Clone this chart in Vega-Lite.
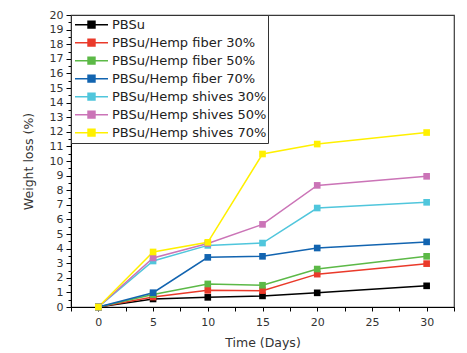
{
  "$schema": "https://vega.github.io/schema/vega-lite/v6.json",
  "width": 383,
  "height": 292,
  "autosize": {"type": "none"},
  "padding": {"left": 71, "top": 15, "right": 13, "bottom": 46},
  "background": "white",
  "config": {
    "view": {"stroke": "#3a3a3a", "strokeWidth": 1.2},
    "axis": {
      "grid": false,
      "domainColor": "#000000",
      "domainWidth": 1,
      "tickColor": "#000000",
      "tickWidth": 1,
      "labelFont": "DejaVu Sans",
      "labelFontSize": 11,
      "labelColor": "#333333",
      "titleFont": "DejaVu Sans",
      "titleFontSize": 12.5,
      "titleFontWeight": "normal",
      "titleColor": "#333333",
      "labelOverlap": false,
      "labelFlush": false
    },
    "legend": {
      "orient": "top-left",
      "offset": 0,
      "padding": 1,
      "strokeColor": "#333333",
      "fillColor": "white",
      "labelFont": "DejaVu Sans",
      "labelFontSize": 13,
      "labelColor": "#222222",
      "symbolSize": 1089,
      "symbolStrokeWidth": 1.5,
      "symbolOpacity": 1,
      "clipHeight": 17.3,
      "rowPadding": 0,
      "labelOffset": 3,
      "symbolOffset": 2,
      "cornerRadius": 0
    }
  },
  "data": {
    "values": [
      {"series": "PBSu", "day": 0, "loss": 0},
      {"series": "PBSu", "day": 5, "loss": 0.55},
      {"series": "PBSu", "day": 10, "loss": 0.66},
      {"series": "PBSu", "day": 15, "loss": 0.76},
      {"series": "PBSu", "day": 20, "loss": 0.97},
      {"series": "PBSu", "day": 30, "loss": 1.45},
      {"series": "PBSu/Hemp fiber 30%", "day": 0, "loss": 0},
      {"series": "PBSu/Hemp fiber 30%", "day": 5, "loss": 0.68},
      {"series": "PBSu/Hemp fiber 30%", "day": 10, "loss": 1.14},
      {"series": "PBSu/Hemp fiber 30%", "day": 15, "loss": 1.12},
      {"series": "PBSu/Hemp fiber 30%", "day": 20, "loss": 2.25},
      {"series": "PBSu/Hemp fiber 30%", "day": 30, "loss": 2.97},
      {"series": "PBSu/Hemp fiber 50%", "day": 0, "loss": 0},
      {"series": "PBSu/Hemp fiber 50%", "day": 5, "loss": 0.85},
      {"series": "PBSu/Hemp fiber 50%", "day": 10, "loss": 1.58},
      {"series": "PBSu/Hemp fiber 50%", "day": 15, "loss": 1.49},
      {"series": "PBSu/Hemp fiber 50%", "day": 20, "loss": 2.6},
      {"series": "PBSu/Hemp fiber 50%", "day": 30, "loss": 3.47},
      {"series": "PBSu/Hemp fiber 70%", "day": 0, "loss": 0},
      {"series": "PBSu/Hemp fiber 70%", "day": 5, "loss": 0.98},
      {"series": "PBSu/Hemp fiber 70%", "day": 10, "loss": 3.4},
      {"series": "PBSu/Hemp fiber 70%", "day": 15, "loss": 3.47},
      {"series": "PBSu/Hemp fiber 70%", "day": 20, "loss": 4.04},
      {"series": "PBSu/Hemp fiber 70%", "day": 30, "loss": 4.46},
      {"series": "PBSu/Hemp shives 30%", "day": 0, "loss": 0},
      {"series": "PBSu/Hemp shives 30%", "day": 5, "loss": 3.15},
      {"series": "PBSu/Hemp shives 30%", "day": 10, "loss": 4.22},
      {"series": "PBSu/Hemp shives 30%", "day": 15, "loss": 4.38},
      {"series": "PBSu/Hemp shives 30%", "day": 20, "loss": 6.78},
      {"series": "PBSu/Hemp shives 30%", "day": 30, "loss": 7.17},
      {"series": "PBSu/Hemp shives 50%", "day": 0, "loss": 0},
      {"series": "PBSu/Hemp shives 50%", "day": 5, "loss": 3.36},
      {"series": "PBSu/Hemp shives 50%", "day": 10, "loss": 4.35},
      {"series": "PBSu/Hemp shives 50%", "day": 15, "loss": 5.66},
      {"series": "PBSu/Hemp shives 50%", "day": 20, "loss": 8.33},
      {"series": "PBSu/Hemp shives 50%", "day": 30, "loss": 8.95},
      {"series": "PBSu/Hemp shives 70%", "day": 0, "loss": 0},
      {"series": "PBSu/Hemp shives 70%", "day": 5, "loss": 3.77},
      {"series": "PBSu/Hemp shives 70%", "day": 10, "loss": 4.43},
      {"series": "PBSu/Hemp shives 70%", "day": 15, "loss": 10.48},
      {"series": "PBSu/Hemp shives 70%", "day": 20, "loss": 11.16},
      {"series": "PBSu/Hemp shives 70%", "day": 30, "loss": 11.95}
    ]
  },
  "encoding": {
    "x": {
      "field": "day",
      "type": "quantitative",
      "scale": {"domain": [-2.5, 32.5], "nice": false, "zero": false},
      "axis": {
        "title": "Time (Days)",
        "values": [-2.5, 0, 2.5, 5, 7.5, 10, 12.5, 15, 17.5, 20, 22.5, 25, 27.5, 30, 32.5],
        "labelExpr": "datum.value % 5 == 0 ? format(datum.value, 'd') : ''",
        "tickSize": 4,
        "labelPadding": 5,
        "titlePadding": 9
      }
    },
    "y": {
      "field": "loss",
      "type": "quantitative",
      "scale": {"domain": [0, 20], "nice": false},
      "axis": {
        "title": "Weight loss (%)",
        "values": [0, 0.5, 1, 1.5, 2, 2.5, 3, 3.5, 4, 4.5, 5, 5.5, 6, 6.5, 7, 7.5, 8, 8.5, 9, 9.5, 10, 10.5, 11, 11.5, 12, 12.5, 13, 13.5, 14, 14.5, 15, 15.5, 16, 16.5, 17, 17.5, 18, 18.5, 19, 19.5, 20],
        "labelExpr": "datum.value % 1 == 0 ? format(datum.value, 'd') : ''",
        "tickSize": {"condition": {"test": "datum.value % 1 == 0", "value": 5}, "value": 3},
        "labelPadding": 3,
        "titlePadding": 14
      }
    },
    "color": {
      "field": "series",
      "type": "nominal",
      "scale": {
        "domain": ["PBSu", "PBSu/Hemp fiber 30%", "PBSu/Hemp fiber 50%", "PBSu/Hemp fiber 70%", "PBSu/Hemp shives 30%", "PBSu/Hemp shives 50%", "PBSu/Hemp shives 70%"],
        "range": ["#000000", "#ea3a2a", "#5cb947", "#1264b0", "#50c6dc", "#cb74b7", "#fff000"]
      },
      "legend": {
        "title": null,
        "symbolType": "M-1,0H1M-0.21,-0.21H0.21V0.21H-0.21Z"
      }
    }
  },
  "layer": [
    {"mark": {"type": "line", "strokeWidth": 1.5}},
    {"mark": {"type": "point", "shape": "square", "filled": true, "size": 44, "opacity": 1}}
  ]
}
